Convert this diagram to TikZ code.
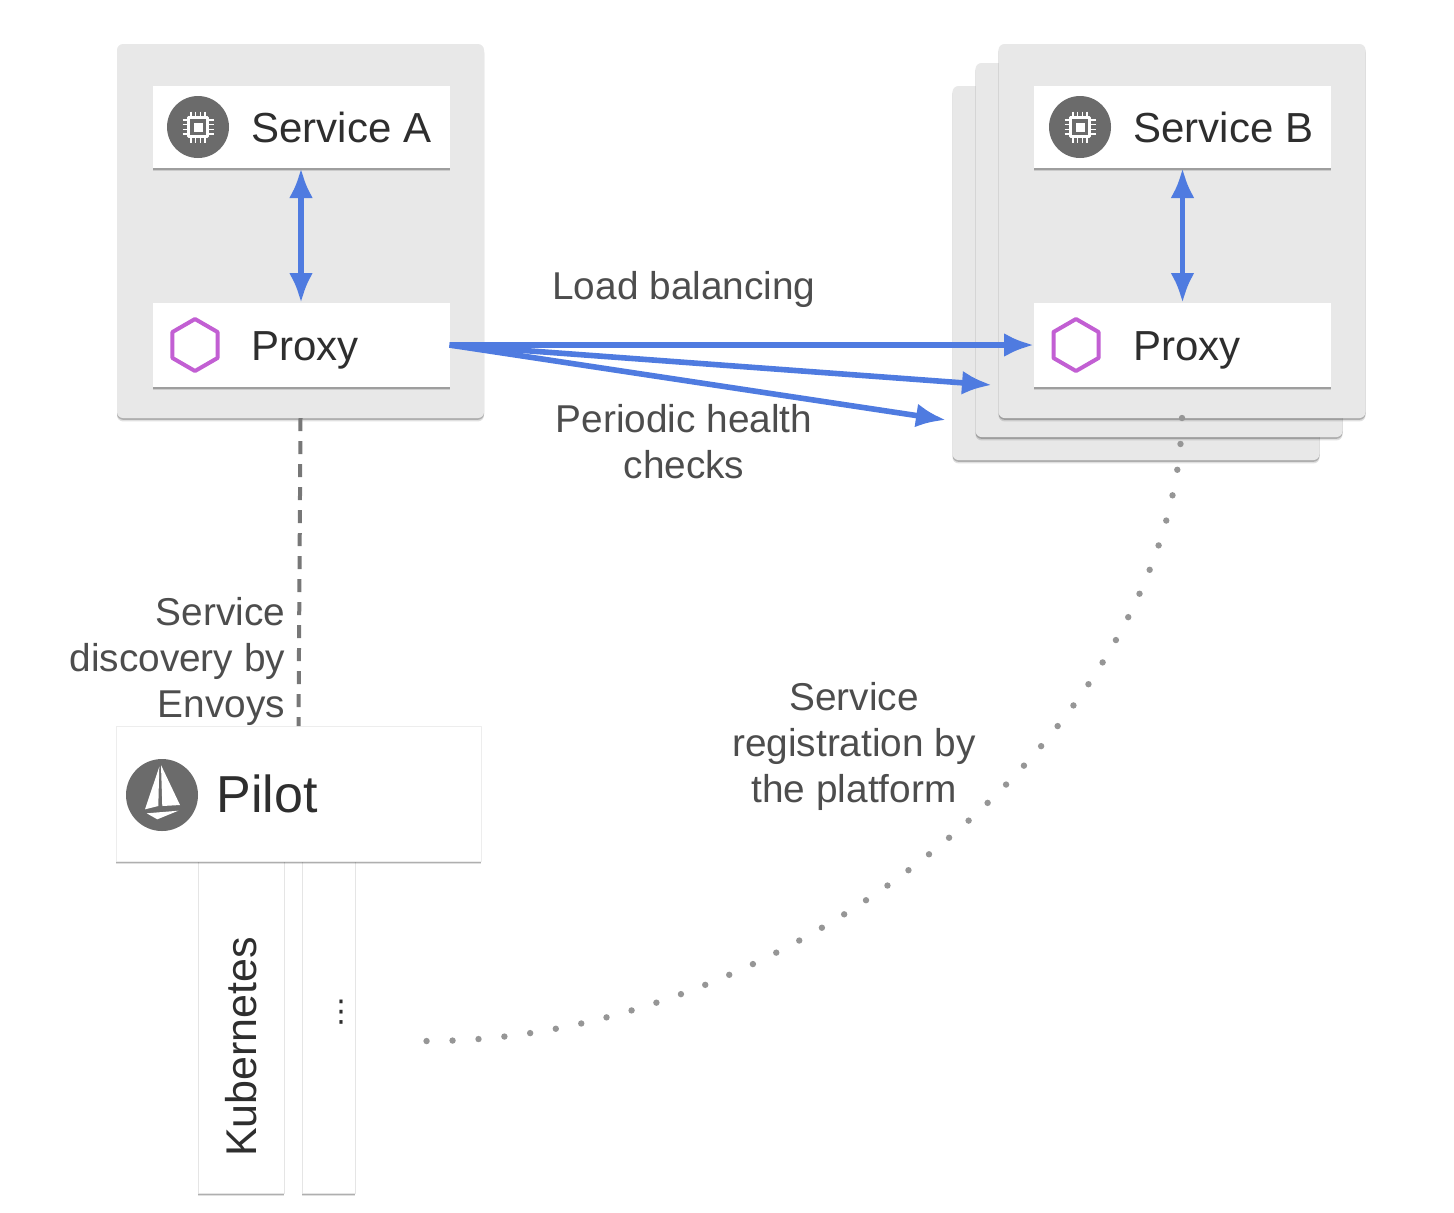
\documentclass[tikz,border=0pt]{standalone}
\usepackage{fontspec}
\setmainfont{Liberation Sans}
\newfontfamily\symbolfont{DejaVu Sans}
\usetikzlibrary{arrows.meta,shadows,shapes.geometric}
\definecolor{panelgray}{HTML}{E8E8E8}
\definecolor{iconring}{HTML}{6B6B6B}
\definecolor{linkblue}{HTML}{4F7BE0}
\definecolor{hexpurple}{HTML}{C25FD3}
\definecolor{titleink}{HTML}{2E2E2E}
\definecolor{noteink}{HTML}{4D4D4D}
\definecolor{dashgray}{HTML}{777777}
\definecolor{dotgray}{HTML}{969696}
\tikzset{
	softshadow/.style={
		drop shadow={shadow xshift=0pt, shadow yshift=-1.7pt, fill=black, opacity=.12},
		drop shadow={shadow xshift=0pt, shadow yshift=-.9pt, fill=black, opacity=.22}},
	panel/.style={fill=panelgray, rounded corners=3pt, minimum width=183.5pt, minimum height=187pt, inner sep=0pt, outer sep=0pt, softshadow},
	card/.style={fill=white, minimum width=148.5pt, inner sep=0pt, outer sep=0pt, softshadow},
	slat/.style={fill=white, draw=black!10, line width=.5pt, minimum height=166pt, inner sep=0pt, outer sep=0pt, softshadow},
	title/.style={anchor=base west, inner sep=0pt, text=titleink, font=\fontsize{21}{25}\selectfont},
	note/.style={inner sep=0pt, text=noteink, font=\fontsize{19.4}{23}\selectfont},
	link/.style={draw=linkblue, line width=2.8pt, -{Latex[length=15pt,width=12pt]}},
	both/.style={{Latex[length=15pt,width=12pt]}-{Latex[length=15pt,width=12pt]}},
	hexmark/.style={regular polygon, regular polygon sides=6, shape border rotate=30, draw=hexpurple, line width=2pt, minimum size=26pt, inner sep=0pt},
	chip/.pic={
		\fill[iconring] (0,0) circle (31);
		\draw[white, line width=1.1pt] (-9.5,-9.5) rectangle (9.5,9.5);
		\fill[white] (-4.5,-4.5) rectangle (4.5,4.5);
		\foreach \p in {-7,-2.5,2.5,7}{
			\draw[white, line width=.6pt] (\p,-15.5)--(\p,-11) (\p,11)--(\p,15.5) (-15.5,\p)--(-11,\p) (11,\p)--(15.5,\p);
		}
	}
}
\begin{document}
\begin{tikzpicture}[x=.5pt, y=-.5pt, >=stealth, line join=round]
	\useasboundingbox (0,0) rectangle (1454,1212);
	% left pod
	\node[panel] (podA) at (300.5,231) {};
	\node[card, minimum height=41pt] (serviceA) at (301,127) {};
	\node[card, minimum height=42pt] (proxyA) at (301,345) {};
	% stack on the right
	\node[panel] (podBback) at (1136,273) {};
	\node[panel] (podBmid) at (1159,250) {};
	\node[panel] (podB) at (1182,231) {};
	\node[card, minimum height=41pt] (serviceB) at (1182.5,127) {};
	\node[card, minimum height=42pt] (proxyB) at (1182.5,345) {};
	% pilot and its adapters
	\node[slat, minimum width=43pt] (k8s) at (241,1027) {};
	\node[slat, minimum width=26.5pt] (other) at (328.5,1027) {};
	\node[card, draw=black!7, line width=.5pt, minimum width=182.5pt, minimum height=67.5pt] (pilot) at (298.5,793.5) {};
	% icons
	\pic at (198,127) {chip};
	\pic at (1080,127) {chip};
	\node[hexmark] (hexA) at (195,345) {};
	\node[hexmark] (hexB) at (1076,345) {};
	\fill[iconring] (162,795) circle (36);
	\fill[white] (159.3,766.7)--(158.3,806)--(145,809.3)--cycle
		(161,765)--(180,805)--(162.3,806)--cycle
		(146.7,813.3)--(178.3,810.7)--(157.3,819.3)--cycle;
	% titles
	\node[title] (serviceAtext) at (251,142) {Service A};
	\node[title] (proxyAtext) at (251,360) {Proxy};
	\node[title] (serviceBtext) at (1133,142) {Service B};
	\node[title] (proxyBtext) at (1133,360) {Proxy};
	\node[title, font=\fontsize{26}{30}\selectfont] (pilottext) at (216,812) {Pilot};
	\node[title, anchor=center, rotate=90, font=\fontsize{21.5}{25}\selectfont] (k8stext) at (241,1047) {Kubernetes};
	\node[inner sep=0pt, text=titleink, font=\symbolfont\fontsize{15}{17}\selectfont] (moretext) at (341,1012) {⋮};
	% notes
	\node[note] (lbtext) at (684,289) {Load balancing};
	\node[note, align=center] (healthtext) at (684,442) {Periodic health\\checks};
	\node[note, align=right, anchor=east] (discoverytext) at (285.5,661) {Service\\discovery by\\Envoys};
	\node[note, align=center] (registertext) at (854,746) {Service\\registration by\\the platform};
	% links
	\coordinate (healthmid) at (992,385);
	\coordinate (healthback) at (946,420);
	\coordinate (platform) at (420,1041);
	\draw[link, both] (serviceA)--(proxyA);
	\draw[link, both] (serviceB)--(proxyB);
	\draw[link] (proxyA.east)--(proxyB.west);
	\draw[link] (proxyA.east)--(healthmid);
	\draw[link] (proxyA.east)--(healthback);
	\draw[dashgray, line width=2pt, dash pattern=on 6.5pt off 5pt] (podA.south)--(pilot.north);
	\draw[dotgray, line width=3.2pt, line cap=round, dash pattern=on 0pt off 13pt] (podB.south) .. controls (1174,730) and (790,1045) .. (platform);
\end{tikzpicture}
\end{document}
